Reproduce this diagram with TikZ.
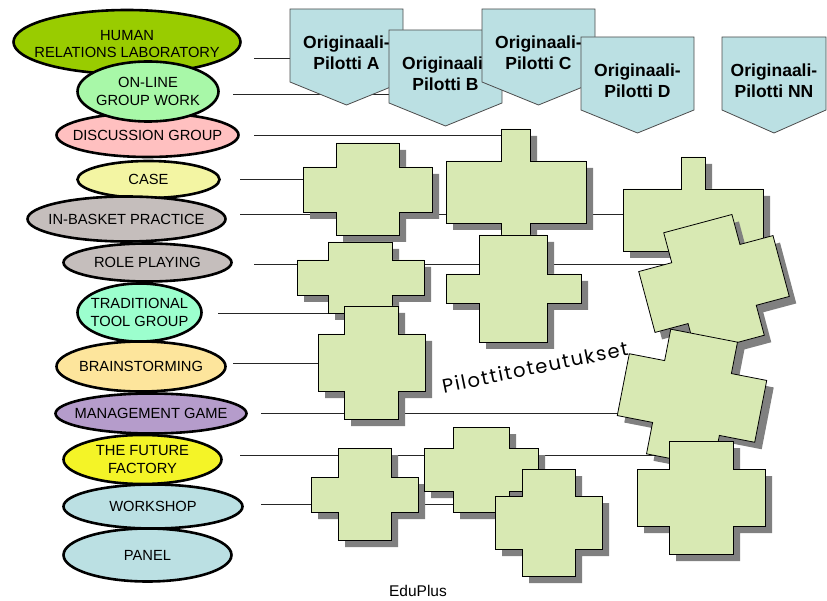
\documentclass[tikz,border=0pt]{standalone}
\usepackage{fontspec}
\setmainfont{Liberation Sans}
\newfontfamily\handfont[LetterSpace=8]{Poppins}
\usetikzlibrary{shapes.geometric}

\definecolor{hrgreen}{HTML}{99CC00}
\definecolor{olgreen}{HTML}{A8F8A8}
\definecolor{dgpink}{HTML}{FFC0C0}
\definecolor{caseyel}{HTML}{F3F5A3}
\definecolor{ibgray}{HTML}{C5BEBC}
\definecolor{ttaqua}{HTML}{9CFFCE}
\definecolor{bsorange}{HTML}{FDE59C}
\definecolor{mglilac}{HTML}{B59CCB}
\definecolor{ffyellow}{HTML}{F4F427}
\definecolor{wsblue}{HTML}{BBE0E3}
\definecolor{plusgreen}{HTML}{D8E9B3}

\tikzset{
  meth/.style={ellipse, draw=black, line width=2.6pt, inner sep=0pt},
  methtext/.style={align=center, font=\fontsize{14.7}{17.5}\selectfont},
  pilotbox/.style={fill=wsblue, draw=black!70, line width=0.8pt},
  pilottext/.style={align=center, font=\fontsize{17.5}{21}\selectfont\bfseries},
  plusbox/.style={fill=plusgreen, draw=black, line width=0.8pt},
  plusshadow/.style={fill=black!50},
  link/.style={draw=black!85, line width=0.9pt}
}

% cross: style, x1 x2 x3 x4 (left, stub left, stub right, right), y1 y2 y3 y4 (top, arm top, arm bottom, bottom)
\newcommand{\plusat}[9]{\path[#1] (#3,#6) -- (#4,#6) -- (#4,#7) -- (#5,#7) -- (#5,#8) -- (#4,#8) -- (#4,#9) -- (#3,#9) -- (#3,#8) -- (#2,#8) -- (#2,#7) -- (#3,#7) -- cycle;}
\newcommand{\plus}[8]{\plusat{plusshadow,shift={(7,7)}}{#1}{#2}{#3}{#4}{#5}{#6}{#7}{#8}\plusat{plusbox}{#1}{#2}{#3}{#4}{#5}{#6}{#7}{#8}}
% pilot tag: name, left, top, width, letter
\newcommand{\pilot}[5]{\filldraw[pilotbox] (#2,#3) -- ++(#4,0) -- ++(0,73) -- ++(-#4/2,23) -- ++(-#4/2,-23) -- cycle;
  \node[pilottext] (#1) at (#2+#4/2,#3+44) {Originaali-\\Pilotti #5};}

\begin{document}
\begin{tikzpicture}[x=1pt,y=-1pt]
\useasboundingbox (0,0) rectangle (827,601);

%connectors
\coordinate (s1) at (254,58);  \coordinate (e1) at (290,58);
\coordinate (s2) at (233,94);  \coordinate (e2) at (389,94);
\coordinate (s3) at (254,135); \coordinate (e3) at (501,135);
\coordinate (s4) at (240,179); \coordinate (e4) at (303,179);
\coordinate (s5) at (240,214); \coordinate (e5) at (623,214);
\coordinate (s6) at (254,264); \coordinate (e6) at (670,264);
\coordinate (s7) at (218,313); \coordinate (e7) at (345,313);
\coordinate (s8) at (233,363); \coordinate (e8) at (318,363);
\coordinate (s9) at (261,413); \coordinate (e9) at (618,413);
\coordinate (s10) at (240,455); \coordinate (e10) at (669,455);
\coordinate (s11) at (261,504); \coordinate (e11) at (495,504);
\foreach \i in {1,...,11} \draw[link] (s\i) -- (e\i);

%methods
\node[meth, fill=hrgreen, minimum width=227, minimum height=64] (hrl) at (127,42) {};
\node[methtext] (hrl-t) at (127,44) {HUMAN\\RELATIONS LABORATORY};
\node[meth, fill=dgpink, minimum width=182, minimum height=44] (dg) at (147.5,135) {};
\node[methtext] (dg-t) at (dg) {DISCUSSION GROUP};
\node[meth, fill=olgreen, minimum width=141, minimum height=60] (ol) at (148,91.5) {};
\node[methtext] (ol-t) at (ol) {ON-LINE\\GROUP WORK};
\node[meth, fill=caseyel, minimum width=142, minimum height=37] (cs) at (148.5,179.5) {};
\node[methtext] (cs-t) at (cs) {CASE};
\node[meth, fill=ibgray, minimum width=198, minimum height=45] (ib) at (126.5,219) {};
\node[methtext] (ib-t) at (ib) {IN-BASKET PRACTICE};
\node[meth, fill=ibgray, minimum width=168, minimum height=38] (rp) at (147.5,262.5) {};
\node[methtext] (rp-t) at (rp) {ROLE PLAYING};
\node[meth, fill=ttaqua, minimum width=124, minimum height=58] (tt) at (139.5,312.5) {};
\node[methtext] (tt-t) at (tt) {TRADITIONAL\\TOOL GROUP};
\node[meth, fill=bsorange, minimum width=169, minimum height=50] (bs) at (141,366.5) {};
\node[methtext] (bs-t) at (bs) {BRAINSTORMING};
\node[meth, fill=mglilac, minimum width=191, minimum height=40] (mg) at (151,413.5) {};
\node[methtext] (mg-t) at (mg) {MANAGEMENT GAME};
\node[meth, fill=ffyellow, minimum width=158, minimum height=49] (ff) at (142.5,459.5) {};
\node[methtext] (ff-t) at (ff) {THE FUTURE\\FACTORY};
\node[meth, fill=wsblue, minimum width=179, minimum height=44] (ws) at (153,506.5) {};
\node[methtext] (ws-t) at (ws) {WORKSHOP};
\node[meth, fill=wsblue, minimum width=168, minimum height=53] (pn) at (147.5,555) {};
\node[methtext] (pn-t) at (pn) {PANEL};

%pilots
\pilot{pa}{290}{9}{113}{A}
\pilot{pb}{389}{30}{113}{B}
\pilot{pc}{482}{9}{113}{C}
\pilot{pd}{581}{37}{113}{D}
\pilot{pnn}{722}{37}{104}{NN}

%crosses
\plus{303}{336}{399}{432}{143}{167}{212}{235}
\plus{446}{501}{530}{586}{129}{161}{223}{255}
\plus{623}{681}{705}{763}{157}{189}{251}{283}
\plus{297}{328}{392}{424}{242}{260}{295}{313}
\plus{446}{479}{547}{581}{235}{274}{303}{342}
\plus{318}{344}{398}{425}{306}{334}{391}{419}
\plus{311}{338}{391}{418}{448}{477}{512}{540}
\plus{424}{453}{509}{538}{427}{448}{491}{512}
\plus{495}{522}{575}{602}{469}{496}{549}{576}
\begin{scope}[shift={(721,291)},rotate=15]
\plusat{plusshadow}{-69.5}{-35.3}{35.3}{69.5}{-62.5}{-31.5}{31.5}{62.5}
\end{scope}
\begin{scope}[shift={(714,284)},rotate=15]
\plusat{plusbox}{-69.5}{-35.3}{35.3}{69.5}{-62.5}{-31.5}{31.5}{62.5}
\end{scope}
\begin{scope}[shift={(699,405)},rotate=-11]
\plusat{plusshadow}{-70}{-34}{34}{70}{-63.5}{-31.5}{31.5}{63.5}
\end{scope}
\begin{scope}[shift={(692,398)},rotate=-11]
\plusat{plusbox}{-70}{-34}{34}{70}{-63.5}{-31.5}{31.5}{63.5}
\end{scope}
\plus{637}{669}{733}{765}{441}{469}{526}{554}

\node[rotate=11.6, font=\handfont\fontsize{19.5}{22}\selectfont] (ptt) at (535,367) {Pilottitoteutukset};
\node[font=\fontsize{15.5}{18}\selectfont] (edu) at (418,591) {EduPlus};
\end{tikzpicture}
\end{document}
